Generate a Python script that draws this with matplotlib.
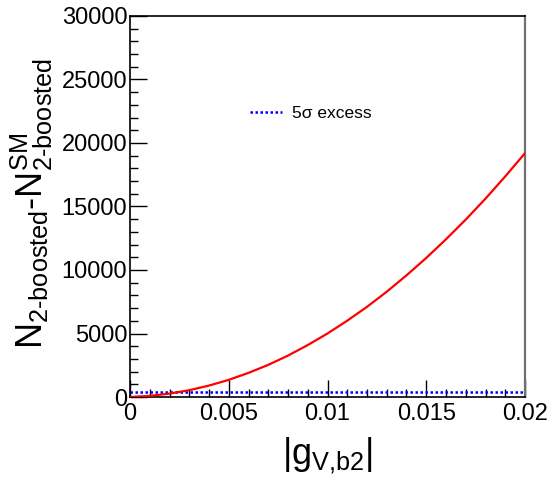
import matplotlib
matplotlib.use("Agg")
import matplotlib.pyplot as plt
from matplotlib.ticker import MultipleLocator, FuncFormatter

plt.rcParams['font.family'] = ['Liberation Sans', 'DejaVu Sans']
plt.rcParams['mathtext.fontset'] = 'custom'
plt.rcParams['mathtext.rm'] = 'Liberation Sans'
plt.rcParams['mathtext.it'] = 'Liberation Sans'
plt.rcParams['mathtext.bf'] = 'Liberation Sans:bold'

# data
g_vb2 = [0.0, 0.001, 0.002, 0.003, 0.004, 0.005, 0.006, 0.007, 0.008, 0.009, 0.010,
         0.011, 0.012, 0.013, 0.014, 0.015, 0.016, 0.017, 0.018, 0.019, 0.020]
delta_n = [0, 90, 265, 535, 900, 1350, 1900, 2530, 3260, 4090, 5000,
           6010, 7100, 8290, 9580, 10950, 12420, 13970, 15620, 17370, 19200]
excess_5sigma = 420
legend_label = "5\u03c3 excess"

fig = plt.figure(figsize=(5.5, 4.91), dpi=100)
W, H = 550, 491
ax = fig.add_axes([130 / W, 1 - 397 / H, (525 - 130) / W, (397 - 16) / H])

ax.plot(g_vb2, delta_n, color='#ff0000', lw=1.6, zorder=3)
ax.axhline(excess_5sigma, color='#0000ff', lw=1.8, ls=(0, (1, 1)), label=legend_label, zorder=2)

ax.set_xlim(0, 0.02)
ax.set_ylim(0, 30000)
ax.xaxis.set_major_locator(MultipleLocator(0.005))
ax.xaxis.set_minor_locator(MultipleLocator(0.001))
ax.yaxis.set_major_locator(MultipleLocator(5000))
ax.yaxis.set_minor_locator(MultipleLocator(1000))

def xfmt(v, p):
    if abs(v) < 1e-12:
        return "0"
    return ("%.3f" % v).rstrip('0')
ax.xaxis.set_major_formatter(FuncFormatter(xfmt))
ax.yaxis.set_major_formatter(FuncFormatter(lambda v, p: "%d" % v))

ax.tick_params(which='both', direction='in', top=False, right=False, labelsize=17, width=1)
ax.tick_params(which='major', length=12)
ax.tick_params(which='minor', length=6)
ax.tick_params(axis='x', pad=4)
ax.tick_params(axis='y', pad=2)

for s in ['left', 'bottom', 'top']:
    ax.spines[s].set_linewidth(1.2)
    ax.spines[s].set_color('black')
ax.spines['right'].set_color('#707070')
ax.spines['right'].set_linewidth(1.6)

ax.set_ylabel(r"$\mathregular{N_{\text{2-boosted}}\text{-}N^{SM}_{\text{2-boosted}}}$", fontsize=26)
ax.yaxis.set_label_coords(-0.19, 0.509)
ax.set_xlabel(r"$\mathregular{|g_{\text{V,b2}}|}$", fontsize=26)
ax.xaxis.set_label_coords(0.5, -0.1)

leg = ax.legend(loc='center left', bbox_to_anchor=(0.303, 0.745), frameon=False,
                fontsize=12.5, handlelength=1.85, handletextpad=0.57,
                borderpad=0, borderaxespad=0)

fig.savefig("out.png", dpi=100)
